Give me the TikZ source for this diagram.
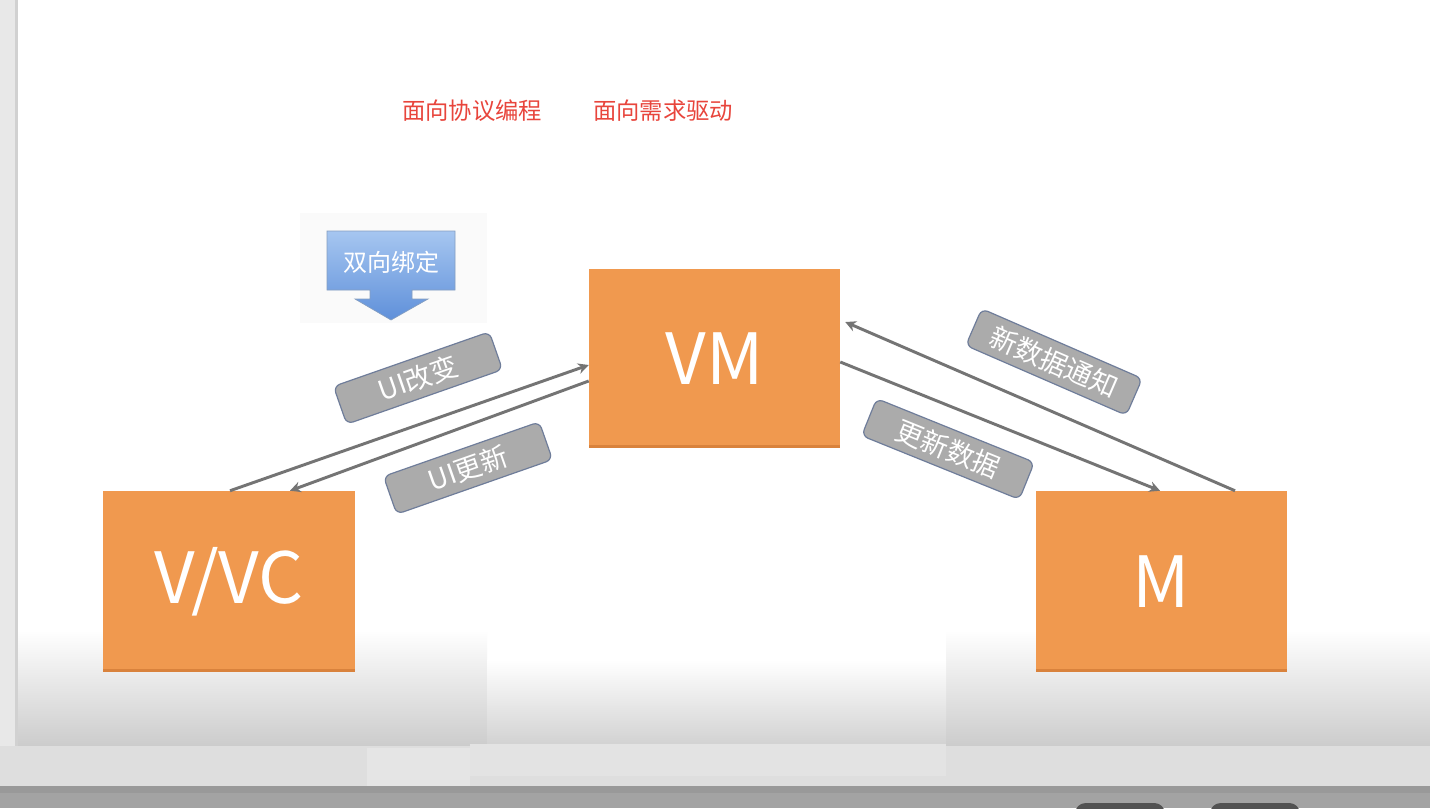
\documentclass[tikz,border=0pt]{standalone}
\usepackage{fontspec}
\setmainfont{Noto Sans CJK SC}
\newfontfamily\cjk{Noto Sans CJK SC}
\usetikzlibrary{arrows.meta,calc}
\definecolor{boxorange}{HTML}{F0994F}
\definecolor{boxedge}{HTML}{D9823C}
\definecolor{titlered}{HTML}{E8453C}
\definecolor{arrgray}{HTML}{747474}
\definecolor{labfill}{HTML}{ABABAB}
\definecolor{labedge}{HTML}{6F7D9A}
\definecolor{calltop}{HTML}{A6C6F0}
\definecolor{callbot}{HTML}{5F90DA}
\tikzset{
  x=0.75pt, y=-0.75pt,
  box/.style={fill=boxorange, draw=none, text=white, inner sep=0pt, font=\cjk\fontsize{53}{53}\selectfont},
  arr/.style={draw=arrgray, line width=2.2pt, -{Stealth[length=8pt,width=8pt]}},
  lab/.style={rounded corners=5pt, fill=labfill, draw=labedge, line width=0.9pt, text=white,
    inner sep=0pt, font=\cjk\fontsize{20.5}{20.5}\selectfont, minimum height=30pt},
  title/.style={text=titlered, font=\cjk\fontsize{17.5}{17.5}\selectfont, inner sep=0pt},
}
\begin{document}
\begin{tikzpicture}
\useasboundingbox (0,0) rectangle (1430,808);
\fill[white] (0,0) rectangle (1430,808);
% bottom fades
\shade[top color=white, bottom color=black!20] (18,630) rectangle (487,746);
\shade[top color=white, bottom color=black!20] (946,630) rectangle (1430,746);
\shade[top color=white, bottom color=black!18] (487,660) rectangle (946,746);
% left stripe
\fill[black!9] (0,0) rectangle (15,746);
\fill[black!18] (15,0) rectangle (18,746);
% bottom bars
\fill[black!13] (0,746) rectangle (1430,786);
\fill[black!11] (470,744) rectangle (946,776);
\fill[black!10] (367,748) rectangle (470,786);
\fill[black!40] (0,786) rectangle (1430,808);
\fill[black!36] (0,793) rectangle (1430,808);
\fill[black!68, rounded corners=8pt] (1075,803) rectangle (1165,830);
\fill[black!68, rounded corners=8pt] (1210,803) rectangle (1300,830);

% titles
\node[title] (t1) at (472,111) {面向协议编程};
\node[title] (t2) at (663,111) {面向需求驱动};

% callout background
\fill[black!2] (300,213) rectangle (487,323);
\shade[top color=calltop, bottom color=callbot, draw=calltop!80!black, line width=0.5pt]
  (327,231) -- (455,231) -- (455,290) -- (412,290) -- (412,299) -- (428,299) -- (391,320)
  -- (355,299) -- (370,299) -- (370,290) -- (327,290) -- cycle;
\node[text=white, font=\cjk\fontsize{18}{18}\selectfont, inner sep=0pt] (bind) at (391,262) {双向绑定};

% boxes
\node[box, minimum width=251*0.75pt, minimum height=179*0.75pt] (vm) at (714.5,358.5) {VM};
\node[box, minimum width=252*0.75pt, minimum height=181*0.75pt] (vvc) at (229,581.5) {V/VC};
\node[box, minimum width=251*0.75pt, minimum height=181*0.75pt] (m) at (1161.5,581.5) {M};
\foreach \b in {vm,vvc,m}{
  \fill[boxedge] ($(\b.south west)+(0,-3)$) rectangle (\b.south east);
}

% arrows
\draw[arr] ($(vvc.north)+(1,0)$) -- ($(vm.west)+(0,6.5)$);
\draw[arr] ($(vm.west)+(0,22.5)$) -- ($(vvc.north)+(61,0)$);
\draw[arr] ($(vm.east)+(0,3.5)$) -- ($(m.north)+(-1.5,0)$);
\draw[arr] ($(m.north)+(73.5,0)$) -- ($(vm.east)+(5,-36.5)$);

% labels
\node[lab, rotate=19.3, minimum width=165*0.75pt] (l1) at (418,378) {UI改变};
\node[lab, rotate=19.3, minimum width=165*0.75pt] (l2) at (468,468) {UI更新};
\node[lab, rotate=-23.5, minimum width=175*0.75pt] (l3) at (1054,362) {新数据通知};
\node[lab, rotate=-22, minimum width=170*0.75pt] (l4) at (948,449) {更新数据};
\end{tikzpicture}
\end{document}
